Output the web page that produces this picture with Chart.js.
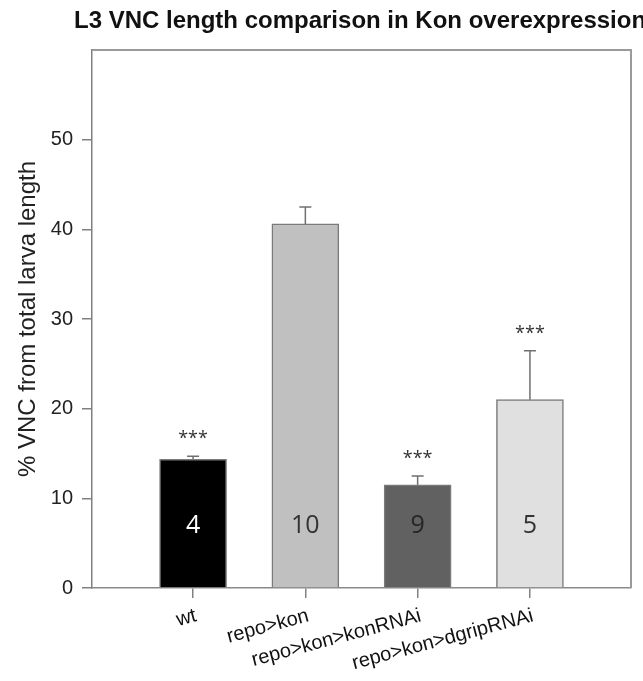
<!DOCTYPE html>
<html>
<head>
<meta charset="utf-8">
<script src="https://cdn.jsdelivr.net/npm/chart.js@4/dist/chart.umd.min.js"></script>
<style>
    html, body { margin: 0; padding: 0; background: #fff; }
</style>
</head>
<body>
<canvas id="vncChart" width="643" height="681"></canvas>
<script>
// Data
const categories = ['wt', 'repo>kon', 'repo>kon>konRNAi', 'repo>kon>dgripRNAi'];
const positions = [1, 2, 3, 4];
const meanValues = [14.35, 40.6, 11.5, 21.0];
const errorValues = [0.35, 1.9, 1.0, 5.45];
const sampleSizes = [4, 10, 9, 5];
const significance = ['***', '', '***', '***'];
const yTicks = [0, 10, 20, 30, 40, 50];

const barColors = ['#000000', '#c0c0c0', '#616161', '#e0e0e0'];
const countColors = ['#ffffff', '#333333', '#262626', '#333333'];

// Error bars, stars, n-counts, frame and title
const annotations = {
    id: 'annotations',
    afterDatasetsDraw(chart) {
        const { ctx, chartArea: area, scales: { x, y } } = chart;
        ctx.save();

        positions.forEach((p, i) => {
            const px = x.getPixelForValue(p);
            const top = y.getPixelForValue(meanValues[i]);
            const cap = y.getPixelForValue(meanValues[i] + errorValues[i]);

            // upper error bar only
            ctx.strokeStyle = '#707070';
            ctx.lineWidth = 1.5;
            ctx.beginPath();
            ctx.moveTo(px, top);
            ctx.lineTo(px, cap);
            ctx.moveTo(px - 6, cap);
            ctx.lineTo(px + 6, cap);
            ctx.stroke();

            // significance stars
            if (significance[i]) {
                ctx.fillStyle = '#333';
                ctx.font = '18px "Open Sans"';
                ctx.textAlign = 'center';
                ctx.textBaseline = 'alphabetic';
                ctx.fillText(significance[i], px, cap - 12);
            }

            // sample size inside the bar
            ctx.fillStyle = countColors[i];
            ctx.font = '25px "Open Sans"';
            ctx.textAlign = 'center';
            ctx.textBaseline = 'middle';
            ctx.fillText(String(sampleSizes[i]), px, area.bottom - 62);
        });

        // top and right frame lines
        ctx.strokeStyle = '#9a9a9a';
        ctx.lineWidth = 2;
        ctx.beginPath();
        ctx.moveTo(area.left, area.top);
        ctx.lineTo(area.right, area.top);
        ctx.lineTo(area.right, area.bottom);
        ctx.stroke();

        ctx.restore();
    },
    afterDraw(chart) {
        const ctx = chart.ctx;
        ctx.save();
        ctx.fillStyle = '#111';
        ctx.font = 'bold 24px "Liberation Sans", Arial, sans-serif';
        ctx.textAlign = 'left';
        ctx.textBaseline = 'alphabetic';
        ctx.fillText('L3 VNC length comparison in Kon overexpression', 74, 28);
        ctx.restore();
    }
};

const ctx = document.getElementById('vncChart').getContext('2d');

new Chart(ctx, {
    type: 'bar',
    data: {
        datasets: [{
            data: positions.map((p, i) => ({ x: p, y: meanValues[i] })),
            backgroundColor: barColors,
            borderColor: '#7a7a7a',
            borderWidth: 1.5,
            barThickness: 67
        }]
    },
    options: {
        responsive: false,
        animation: false,
        layout: { padding: { top: 50, right: 12, left: 0, bottom: 0 } },
        plugins: {
            legend: { display: false },
            tooltip: { enabled: false }
        },
        scales: {
            x: {
                type: 'linear',
                offset: false,
                min: 0.1,
                max: 4.9,
                afterBuildTicks: scale => {
                    scale.ticks = positions.map(v => ({ value: v }));
                },
                afterFit: scale => { scale.height = 93; },
                grid: {
                    offset: false,
                    drawOnChartArea: false,
                    tickLength: 10,
                    color: '#808080',
                    lineWidth: 1.5
                },
                border: { display: true, color: '#8a8a8a', width: 1.5 },
                ticks: {
                    autoSkip: false,
                    minRotation: 15,
                    maxRotation: 15,
                    padding: 6,
                    labelOffset: 3,
                    color: '#111',
                    font: { family: '"Liberation Sans", Arial, sans-serif', size: 20 },
                    callback: value => categories[positions.indexOf(value)]
                }
            },
            y: {
                min: 0,
                max: 60,
                afterBuildTicks: scale => {
                    scale.ticks = yTicks.map(v => ({ value: v }));
                },
                afterFit: scale => { scale.width = 92; },
                grid: {
                    drawOnChartArea: false,
                    tickLength: 10,
                    color: '#808080',
                    lineWidth: 1.5
                },
                border: { display: true, color: '#808080', width: 1.5 },
                ticks: {
                    padding: 9,
                    color: '#222',
                    font: { family: '"Liberation Sans", Arial, sans-serif', size: 20 }
                },
                title: {
                    display: true,
                    text: '% VNC from total larva length',
                    color: '#222',
                    font: { family: '"Liberation Sans", Arial, sans-serif', size: 24 },
                    padding: { top: 14, bottom: 0 }
                }
            }
        }
    },
    plugins: [annotations]
});
</script>
</body>
</html>
